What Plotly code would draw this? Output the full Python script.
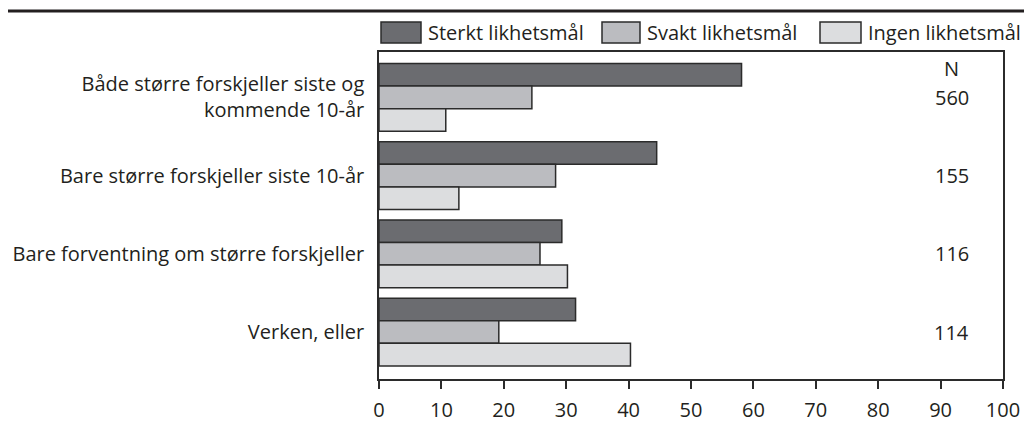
import plotly.graph_objects as go

categories = [
    "Både større forskjeller siste og<br>kommende 10-år",
    "Bare større forskjeller siste 10-år",
    "Bare forventning om større forskjeller",
    "Verken, eller",
]
series_names = ["Sterkt likhetsmål", "Svakt likhetsmål", "Ingen likhetsmål"]
sterkt = [58.1, 44.5, 29.3, 31.5]
svakt = [24.5, 28.3, 25.8, 19.2]
ingen = [10.7, 12.8, 30.2, 40.3]
n_values = ["560", "155", "116", "114"]
x_ticks = [0, 10, 20, 30, 40, 50, 60, 70, 80, 90, 100]

colors = ["#6b6c70", "#bbbcc0", "#dcdddf"]
FONT = "Open Sans"
TXT = "#231f20"
EDGE = "#2b2b2b"
FS = 20

FIG_W, FIG_H = 1024, 424
# plot-area geometry in pixels
L, R, T, B = 379, 1003, 52, 379
W, H = R - L, B - T


def px(xp):
    return (xp - L) / W


def py(yp):
    return (B - yp) / H


fig = go.Figure()
for name, vals, col in zip(series_names, [sterkt, svakt, ingen], colors):
    fig.add_trace(go.Bar(
        y=categories, x=vals, name=name, orientation="h",
        marker=dict(color=col, line=dict(color=EDGE, width=1.5)),
        showlegend=False,
    ))

for i, n in enumerate(n_values):
    fig.add_annotation(x=91.8, y=i, xref="x", yref="y", text=n, showarrow=False,
                       font=dict(size=FS, color=TXT, family=FONT))
fig.add_annotation(x=91.8, y=-0.37, xref="x", yref="y", text="N", showarrow=False,
                   font=dict(size=FS, color=TXT, family=FONT))

# custom legend (swatches and labels)
swatch_x = [(381, 421), (602, 640), (820, 861)]
for (x0, x1), name, col in zip(swatch_x, series_names, colors):
    fig.add_shape(type="rect", xref="paper", yref="paper",
                  x0=px(x0), x1=px(x1), y0=py(43), y1=py(22),
                  fillcolor=col, line=dict(color=EDGE, width=1.5))
    fig.add_annotation(x=px(x1 + 5), y=py(32.5), xref="paper", yref="paper",
                       text=name, showarrow=False, xanchor="left", yanchor="middle",
                       font=dict(size=FS, color=TXT, family=FONT))

# rule at the top
fig.add_shape(type="line", xref="paper", yref="paper", x0=px(8), x1=px(1030),
              y0=py(11), y1=py(11), line=dict(color=TXT, width=3))

fig.update_layout(
    width=FIG_W, height=FIG_H,
    margin=dict(l=L, r=FIG_W - R, t=T, b=FIG_H - B, autoexpand=False),
    barmode="group", bargap=0.135, bargroupgap=0,
    plot_bgcolor="white", paper_bgcolor="white",
    font=dict(family=FONT, size=FS, color=TXT),
    showlegend=False,
    xaxis=dict(range=[0, 100], tickvals=x_ticks, ticks="outside", ticklen=8,
               tickcolor=EDGE, tickwidth=1.5, showgrid=False, zeroline=False,
               showline=True, linecolor=EDGE, linewidth=1.5, mirror=True,
               automargin=False, ticklabelstandoff=4,
               tickfont=dict(size=FS, family=FONT, color=TXT), fixedrange=True),
    yaxis=dict(type="category", range=[3.6, -0.58], showgrid=False, zeroline=False,
               showline=True, linecolor=EDGE, linewidth=1.5, mirror=True,
               ticks="", ticklabelstandoff=9, automargin=False,
               tickfont=dict(size=FS, family=FONT, color=TXT), fixedrange=True),
)

fig.write_html(
    "out.html",
    config={"displayModeBar": False},
    post_script="document.body.style.margin='0';document.body.style.overflow='hidden';",
)
